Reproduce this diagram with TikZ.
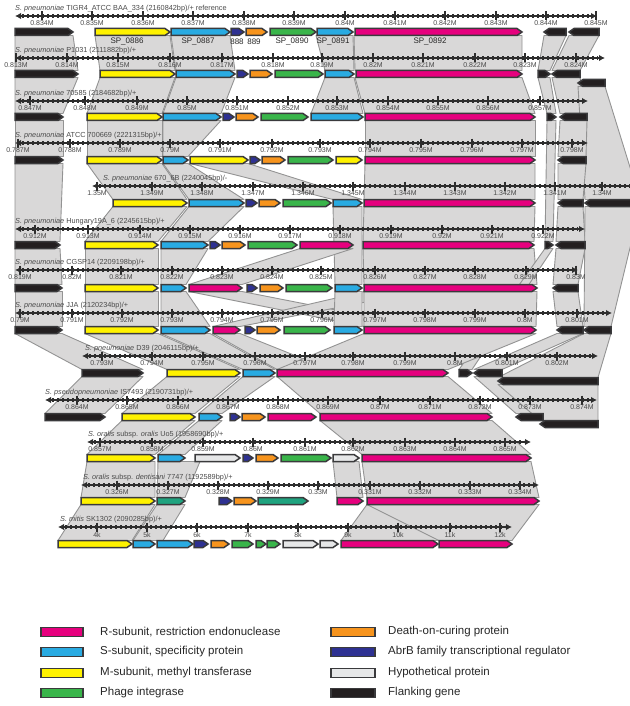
\documentclass[tikz,border=0pt]{standalone}
\usepackage{fontspec}
\setmainfont{Liberation Sans}
\usetikzlibrary{arrows.meta}
\definecolor{Rsub}{HTML}{E6007E}
\definecolor{Ssub}{HTML}{29ABE2}
\definecolor{Msub}{HTML}{FFF200}
\definecolor{Integ}{HTML}{39B54A}
\definecolor{Teal}{HTML}{1FA37F}
\definecolor{Doc}{HTML}{F7941D}
\definecolor{AbrB}{HTML}{2E3192}
\definecolor{Hypo}{HTML}{E6E7E8}
\definecolor{Flank}{HTML}{231F20}
\definecolor{GeneEdge}{HTML}{3A3A3C}
\definecolor{LinkFill}{HTML}{D9D8D8}
\definecolor{LinkEdge}{HTML}{939393}
\definecolor{Ruler}{HTML}{2E2E2E}
\definecolor{TickText}{HTML}{4A4A4A}

\begin{document}
\begin{tikzpicture}[x=1pt,y=-1pt,
  gene/.style={draw=GeneEdge,line width=1.5pt},
  link/.style={fill=LinkFill,draw=LinkEdge,line width=0.9pt,line join=round},
  rulerline/.style={draw=Ruler,line width=1.4pt,{Latex[length=6pt,width=6.5pt]}-{Latex[length=6pt,width=6.5pt]}},
  rulerdots/.style={draw=Ruler,line width=4.4pt,dash pattern=on 1.8pt off 3.2pt},
  major/.style={draw=Ruler,line width=1.3pt},
  ticklab/.style={font=\fontsize{7}{8}\selectfont,text=TickText,inner sep=0pt},
  tracklab/.style={font=\fontsize{7.3}{8}\selectfont,text=TickText,anchor=west,inner sep=0pt},
  genelab/.style={font=\fontsize{8}{9}\selectfont,text=black!85,inner sep=0pt},
  legbox/.style={draw=GeneEdge,line width=1.2pt},
  legtext/.style={font=\fontsize{11.5}{13}\selectfont,text=black!85,anchor=west,inner sep=0pt}]
\useasboundingbox (0,0) rectangle (629,706);

% homology links between tracks
\foreach \ya/\xa/\xb/\yb/\xc/\xd in {
  32/15/73/74/15/78, 32/95/170/74/100/175, 32/171/230/74/176/235, 32/316/353/74/325/354, 32/354/522/74/355/522, 32/544/566/74/538/550, 32/569/599/74/552/580,
  74/15/78/117/15/63, 74/100/175/117/87/162, 74/176/235/117/163/221, 74/325/354/117/311/363, 74/355/522/117/365/535, 74/538/550/117/547/556, 74/552/580/117/560/587, 83/578/605/203/585/640,
  117/15/63/160/15/63, 117/87/162/160/87/162, 117/163/221/160/163/188, 117/365/535/160/365/535, 117/560/587/160/558/586, 117/547/556/245/545/553,
  160/15/63/245/15/60, 160/87/162/203/113/187, 160/163/188/203/189/244, 160/190/248/203/333/362, 160/365/535/203/364/535, 160/558/586/203/558/583,
  203/113/187/245/85/158, 203/189/244/245/161/208, 203/364/535/245/363/534, 203/558/583/245/556/585, 203/333/362/288/335/362, 203/585/640/330/584/611,
  245/15/60/288/15/62, 245/85/158/288/85/158, 245/161/208/288/161/186, 245/300/353/288/189/242, 245/363/534/288/364/537, 245/556/585/288/553/578, 245/545/553/373/459/472,
  288/15/62/330/15/62, 288/85/158/330/85/158, 288/161/186/330/161/210, 288/189/242/330/364/420, 288/364/420/330/213/240, 288/364/537/330/364/536, 288/335/362/330/334/362, 288/553/578/330/557/583,
  330/15/62/373/82/143, 330/85/158/373/167/240, 330/161/210/373/243/275, 330/213/240/373/277/330, 330/364/536/373/277/448, 330/557/583/373/474/502, 330/584/611/381/498/598,
  373/82/143/417/45/105, 373/167/240/417/122/195, 373/243/275/417/199/222, 373/277/448/417/320/492, 373/474/502/417/516/543, 381/498/598/424/540/598,
  417/122/195/458/87/155, 417/199/222/458/158/185, 417/320/492/458/362/531,
  458/87/155/501/81/155, 458/158/200/501/157/185, 458/333/359/501/337/363, 458/362/531/501/367/539,
  501/81/155/544/58/132, 501/157/185/544/133/163, 501/367/539/544/341/438, 501/367/539/544/439/512}
  \filldraw[link] (\xa,\ya+3.5) -- (\xb,\ya+3.5) -- (\xd,\yb-3.5) -- (\xc,\yb-3.5) -- cycle;

% rulers
\foreach \ry/\rl/\rr in {16/15/597, 58/15/605, 101/15/588, 143/15/588, 186/92/640, 229/15/585, 270/15/578, 313/15/612, 356/82/598, 400/45/597, 442/87/531, 485/81/539, 527/58/512}{
  \draw[rulerdots] (\rl+7,\ry) -- (\rr-7,\ry);
  \draw[rulerline] (\rl,\ry) -- (\rr,\ry);
}
\foreach \ry/\tl in {
  16/{42/0.834M,92/0.835M,143/0.836M,193/0.837M,244/0.838M,294/0.839M,345/0.84M,395/0.841M,445/0.842M,496/0.843M,546/0.844M,596/0.845M},
  58/{16/0.813M,67/0.814M,118/0.815M,170/0.816M,222/0.817M,273/0.818M,322/0.819M,373/0.82M,423/0.821M,475/0.822M,525/0.823M,576/0.824M},
  101/{30/0.847M,85/0.848M,137/0.849M,187/0.85M,237/0.851M,288/0.852M,337/0.853M,388/0.854M,438/0.855M,488/0.856M,540/0.857M},
  143/{18/0.787M,70/0.788M,120/0.789M,170/0.79M,220/0.791M,272/0.792M,320/0.793M,370/0.794M,421/0.795M,472/0.796M,522/0.797M,572/0.798M},
  186/{97/1.35M,152/1.349M,202/1.348M,253/1.347M,303/1.346M,353/1.345M,405/1.344M,455/1.343M,505/1.342M,555/1.341M,602/1.34M},
  229/{35/0.912M,88/0.913M,140/0.914M,190/0.915M,240/0.916M,290/0.917M,340/0.918M,391/0.919M,442/0.92M,492/0.921M,543/0.922M},
  270/{20/0.819M,72/0.82M,121/0.821M,172/0.822M,222/0.823M,272/0.824M,321/0.825M,375/0.826M,425/0.827M,475/0.828M,526/0.829M,576/0.83M},
  313/{20/0.79M,72/0.791M,122/0.792M,172/0.793M,222/0.794M,272/0.795M,322/0.796M,375/0.797M,425/0.798M,475/0.799M,525/0.8M,577/0.801M},
  356/{102/0.793M,152/0.794M,203/0.795M,255/0.796M,305/0.797M,353/0.798M,405/0.799M,455/0.8M,507/0.801M,557/0.802M},
  400/{77/0.864M,127/0.865M,178/0.866M,228/0.867M,278/0.868M,328/0.869M,380/0.87M,430/0.871M,480/0.872M,530/0.873M,582/0.874M},
  442/{100/0.857M,152/0.858M,203/0.859M,253/0.86M,305/0.861M,353/0.862M,405/0.863M,455/0.864M,505/0.865M},
  485/{117/0.326M,168/0.327M,218/0.328M,268/0.329M,318/0.33M,370/0.331M,420/0.332M,470/0.333M,520/0.334M},
  527/{97/4k,147/5k,197/6k,248/7k,298/8k,348/9k,398/10k,450/11k,500/12k}}{
  \foreach \p/\v in \tl {
    \draw[major] (\p,\ry-4.5) -- (\p,\ry+4.5);
    \node[ticklab] (tick-\ry-\p) at (\p,\ry+7.5) {\v};
  }
}

% track titles
\node[tracklab] (tigr4) at (15,8.5) {\textit{S. pneumoniae} TIGR4\_ATCC BAA\_334 (2160842bp)/+ reference};
\node[tracklab] (p1031) at (15,50.5) {\textit{S. pneumoniae} P1031 (2111882bp)/+};
\node[tracklab] (s70585) at (15,93.5) {\textit{S. pneumoniae} 70585 (2184682bp)/+};
\node[tracklab] (atcc) at (15,135.5) {\textit{S. pneumoniae} ATCC 700669 (2221315bp)/+};
\node[tracklab] (s670) at (103,178.5) {\textit{S. pneumoniae} 670\_6B (2240045bp)/-};
\node[tracklab] (hung) at (15,221.5) {\textit{S. pneumoniae} Hungary19A\_6 (2245615bp)/+};
\node[tracklab] (cgsp) at (15,262.5) {\textit{S. pneumoniae} CGSP14 (2209198bp)/+};
\node[tracklab] (jja) at (15,305.5) {\textit{S. pneumoniae} JJA (2120234bp)/+};
\node[tracklab] (d39) at (85,348.5) {\textit{S. pneumoniae} D39 (2046115bp)/+};
\node[tracklab] (pseudo) at (45,392.5) {\textit{S. pseudopneumoniae} IS7493 (2190731bp)/+};
\node[tracklab] (uo5) at (88,434.5) {\textit{S. oralis} subsp. \textit{oralis} Uo5 (1958690bp)/+};
\node[tracklab] (dent) at (83,477.5) {\textit{S. oralis} subsp. \textit{dentisani} 7747 (1192589bp)/+};
\node[tracklab] (mitis) at (60,519.5) {\textit{S. mitis} SK1302 (2090285bp)/+};

% genes pointing right
\foreach \a/\b/\y/\c in {
  15/73/32/Flank,95/170/32/Msub,171/230/32/Ssub,231/244/32/AbrB,246/267/32/Doc,270/316/32/Integ,317/353/32/Ssub,355/522/32/Rsub,
  15/78/74/Flank,100/175/74/Msub,176/235/74/Ssub,237/248/74/AbrB,250/272/74/Doc,275/323/74/Integ,325/354/74/Ssub,356/522/74/Rsub,538/550/74/Flank,
  15/63/117/Flank,87/162/117/Msub,163/221/117/Ssub,223/234/117/AbrB,236/258/117/Doc,261/308/117/Integ,311/363/117/Ssub,365/535/117/Rsub,547/556/117/Flank,
  15/63/160/Flank,87/162/160/Msub,163/188/160/Ssub,190/248/160/Msub,250/260/160/AbrB,262/285/160/Doc,288/333/160/Integ,336/362/160/Msub,365/535/160/Rsub,
  113/187/203/Msub,189/244/203/Ssub,246/257/203/AbrB,259/280/203/Doc,283/331/203/Integ,333/362/203/Ssub,364/535/203/Rsub,
  15/60/245/Flank,85/158/245/Msub,161/208/245/Ssub,210/220/245/AbrB,222/245/245/Doc,248/297/245/Integ,300/353/245/Rsub,363/534/245/Rsub,545/553/245/Flank,
  15/62/288/Flank,85/158/288/Msub,161/186/288/Ssub,189/242/288/Rsub,247/257/288/AbrB,260/283/288/Doc,286/332/288/Integ,335/362/288/Ssub,364/537/288/Rsub,
  15/62/330/Flank,85/158/330/Msub,161/210/330/Ssub,213/240/330/Rsub,245/255/330/AbrB,257/280/330/Doc,284/330/330/Integ,334/362/330/Ssub,364/536/330/Rsub,
  82/143/373/Flank,167/240/373/Msub,243/275/373/Ssub,277/448/373/Rsub,459/472/373/Flank,
  45/105/417/Flank,122/195/417/Msub,199/222/417/Ssub,230/240/417/AbrB,242/265/417/Doc,268/316/417/Rsub,320/492/417/Rsub,
  87/155/458/Msub,158/185/458/Ssub,195/240/458/Hypo,243/253/458/AbrB,256/278/458/Doc,281/331/458/Integ,333/359/458/Hypo,362/531/458/Rsub,
  81/155/501/Msub,157/185/501/Teal,219/232/501/AbrB,234/256/501/Doc,258/308/501/Teal,337/363/501/Rsub,367/539/501/Rsub,
  58/132/544/Msub,133/155/544/Ssub,157/193/544/Ssub,194/208/544/AbrB,211/229/544/Doc,232/253/544/Integ,256/266/544/Integ,267/280/544/Integ,283/318/544/Hypo,320/338/544/Hypo,341/438/544/Rsub,439/512/544/Rsub}
  \filldraw[gene,fill=\c] (\a,\y-3.5) -- (\b-5,\y-3.5) -- (\b,\y) -- (\b-5,\y+3.5) -- (\a,\y+3.5) -- cycle;
% flanking genes pointing left
\foreach \a/\b/\y in {544/566/32,569/599/32,552/580/74,578/605/83,560/587/117,558/586/160,558/583/203,585/640/203,556/585/245,553/578/288,557/583/330,584/611/330,474/502/373,498/598/381,516/543/417,540/598/424}
  \filldraw[gene,fill=Flank] (\b,\y-3.5) -- (\a+5,\y-3.5) -- (\a,\y) -- (\a+5,\y+3.5) -- (\b,\y+3.5) -- cycle;

% reference locus tags
\foreach \x/\t [count=\i] in {127/SP\_0886,198/SP\_0887,237/888,254/889,292/SP\_0890,333/SP\_0891,430/SP\_0892}
  \node[genelab] (tag\i) at (\x,41.5) {\t};

% legend
\foreach \y/\c/\t [count=\i] in {632/Rsub/{R-subunit, restriction endonuclease},652/Ssub/{S-subunit, specificity protein},673/Msub/{M-subunit, methyl transferase},693/Integ/{Phage integrase}}{
  \draw[legbox,fill=\c] (41,\y-4.5) rectangle (83,\y+4.5);
  \node[legtext] (legL\i) at (100,\y) {\t};
}
\foreach \y/\c/\t [count=\i] in {632/Doc/{Death-on-curing protein},652/AbrB/{AbrB family transcriptional regulator},673/Hypo/{Hypothetical protein},693/Flank/{Flanking gene}}{
  \draw[legbox,fill=\c] (331,\y-4.5) rectangle (375,\y+4.5);
  \node[legtext] (legR\i) at (388,\y) {\t};
}
\end{tikzpicture}
\end{document}
